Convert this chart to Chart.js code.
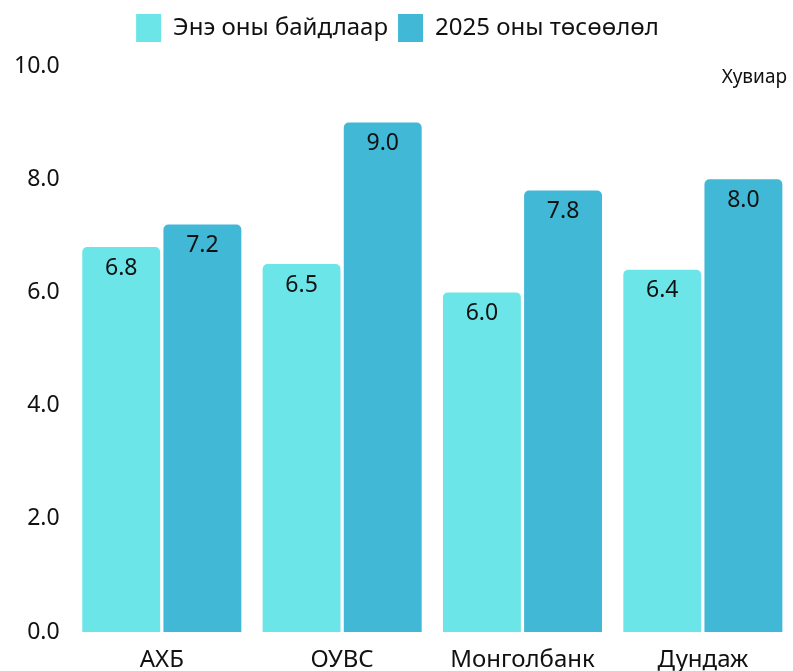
<!DOCTYPE html>
<html>
<head>
<meta charset="utf-8">
<script src="https://cdn.jsdelivr.net/npm/chart.js@4"></script>
<style>
  html, body { margin: 0; padding: 0; background: #fff; }
  #wrap { width: 793px; height: 671px; }
</style>
</head>
<body>
<div id="wrap"><canvas id="chart"></canvas></div>
<script>
const categories = ["АХБ", "ОУВС", "Монголбанк", "Дундаж"];
const currentYear = [6.8, 6.5, 6.0, 6.4];
const forecast2025 = [7.2, 9.0, 7.8, 8.0];
const seriesNames = ["Энэ оны байдлаар", "2025 оны төсөөлөл"];
const unitLabel = "Хувиар";

const FONT = "'Noto Sans', sans-serif";

// value labels inside the top of each bar
const valueLabels = {
  id: "valueLabels",
  afterDatasetsDraw(chart) {
    const ctx = chart.ctx;
    ctx.save();
    ctx.font = "23px " + FONT;
    ctx.fillStyle = "#111";
    ctx.textAlign = "center";
    ctx.textBaseline = "middle";
    chart.data.datasets.forEach((ds, i) => {
      chart.getDatasetMeta(i).data.forEach((bar, j) => {
        ctx.fillText(ds.data[j].toFixed(1), bar.x, bar.y + 21);
      });
    });
    ctx.restore();
  }
};

// extra space under the legend
const legendGap = {
  id: "legendGap",
  beforeInit(chart) {
    const fit = chart.legend.fit;
    chart.legend.fit = function () {
      fit.bind(chart.legend)();
      this.height += 14;
    };
  }
};

const unitText = {
  id: "unitText",
  afterDraw(chart) {
    const ctx = chart.ctx;
    ctx.save();
    ctx.font = "19px " + FONT;
    ctx.fillStyle = "#111";
    ctx.textAlign = "right";
    ctx.textBaseline = "middle";
    ctx.fillText(unitLabel, 787, 78);
    ctx.restore();
  }
};

new Chart(document.getElementById("chart"), {
  type: "bar",
  data: {
    labels: categories,
    datasets: [
      {
        label: seriesNames[0],
        data: currentYear,
        backgroundColor: "#6CE5E8",
        borderRadius: { topLeft: 5, topRight: 5 },
        borderSkipped: "bottom"
      },
      {
        label: seriesNames[1],
        data: forecast2025,
        backgroundColor: "#41B8D5",
        borderRadius: { topLeft: 5, topRight: 5 },
        borderSkipped: "bottom"
      }
    ]
  },
  options: {
    responsive: true,
    maintainAspectRatio: false,
    animation: false,
    layout: { padding: { left: 2, right: 0, top: 4, bottom: 0 } },
    datasets: {
      bar: { categoryPercentage: 0.9, barPercentage: 0.96 }
    },
    plugins: {
      legend: {
        position: "top",
        labels: {
          boxWidth: 25,
          boxHeight: 28,
          padding: 10,
          color: "#111",
          font: { family: FONT, size: 24 }
        }
      },
      tooltip: { enabled: false }
    },
    scales: {
      x: {
        grid: { display: false, drawTicks: false },
        border: { display: false },
        afterFit: s => { s.height = 39; },
        ticks: {
          color: "#111",
          padding: 14,
          font: { family: FONT, size: 24 }
        }
      },
      y: {
        min: 0,
        max: 10,
        grid: { display: false, drawTicks: false },
        border: { display: false },
        ticks: {
          stepSize: 2,
          color: "#111",
          padding: 12,
          font: { family: FONT, size: 23 },
          callback: v => v.toFixed(1)
        }
      }
    }
  },
  plugins: [valueLabels, legendGap, unitText]
});
</script>
</body>
</html>
